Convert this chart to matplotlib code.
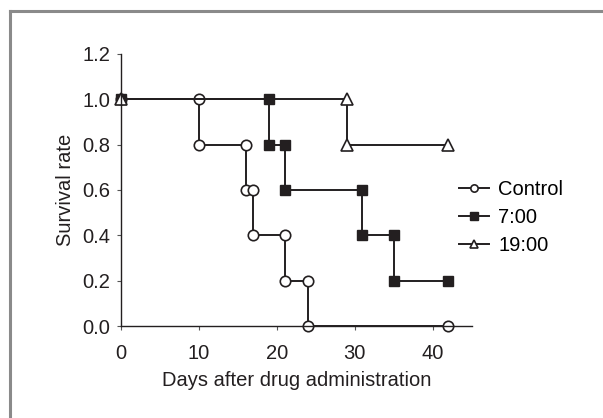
import matplotlib
matplotlib.use('Agg')
import matplotlib.pyplot as plt
from matplotlib.lines import Line2D

plt.rcParams['font.family'] = ['Liberation Sans', 'DejaVu Sans']

# Kaplan-Meier style step points
ctrl_days = [0, 10, 10, 16, 16, 17, 17, 21, 21, 24, 24, 42]
ctrl_surv = [1.0, 1.0, 0.8, 0.8, 0.6, 0.6, 0.4, 0.4, 0.2, 0.2, 0.0, 0.0]
am_days = [0, 19, 19, 21, 21, 31, 31, 35, 35, 42]
am_surv = [1.0, 1.0, 0.8, 0.8, 0.6, 0.6, 0.4, 0.4, 0.2, 0.2]
pm_days = [0, 29, 29, 42]
pm_surv = [1.0, 1.0, 0.8, 0.8]
labels = ['Control', '7:00', '19:00']
xticks = [0, 10, 20, 30, 40]
yticks = [0.0, 0.2, 0.4, 0.6, 0.8, 1.0, 1.2]

ink = '#231f20'
fs = 14.5
fig = plt.figure(figsize=(6.03, 4.18), dpi=100)

# gray frame (top and left edges visible)
fig.add_artist(Line2D([0.0165, 0.0165], [-0.1, 0.9725], transform=fig.transFigure,
                      color='#8a8a8a', lw=2.2))
fig.add_artist(Line2D([0.0165, 1.1], [0.9725, 0.9725], transform=fig.transFigure,
                      color='#8a8a8a', lw=2.2))

ax = fig.add_axes([0.2007, 0.22, 0.5813, 0.651])
ax.plot(ctrl_days, ctrl_surv, '-o', color=ink, mfc='white', mec=ink, ms=7.5, mew=1.2, lw=1.4,
        label=labels[0])
ax.plot(am_days, am_surv, '-s', color=ink, mfc=ink, mec=ink, ms=7.5, lw=1.4, label=labels[1])
ax.plot(pm_days, pm_surv, '-^', color=ink, mfc='white', mec=ink, ms=8.5, mew=1.2, lw=1.4,
        label=labels[2])

ax.set_xlim(0, 45)
ax.set_ylim(0, 1.2)
ax.set_xticks(xticks)
ax.set_yticks(yticks)
ax.set_yticklabels(['%.1f' % v for v in yticks])
ax.spines['top'].set_visible(False)
ax.spines['right'].set_visible(False)
for s in ['left', 'bottom']:
    ax.spines[s].set_color(ink)
    ax.spines[s].set_linewidth(1.0)
ax.tick_params(direction='out', length=3, width=0.8, colors='#555555', labelcolor=ink,
               labelsize=fs)
ax.tick_params(axis='x', pad=10)
ax.tick_params(axis='y', pad=5)
ax.set_xlabel('Days after drug administration', fontsize=fs, color=ink, labelpad=6)
ax.set_ylabel('Survival rate', fontsize=fs, color=ink, labelpad=5)
for ln in ax.lines:
    ln.set_clip_on(False)

ax.legend(loc='center left', bbox_to_anchor=(0.964, 0.40), frameon=False, fontsize=fs,
          borderpad=0, borderaxespad=0, handlelength=1.5, handletextpad=0.45,
          labelspacing=0.45, markerscale=0.7)

fig.savefig('out.png', dpi=100)
